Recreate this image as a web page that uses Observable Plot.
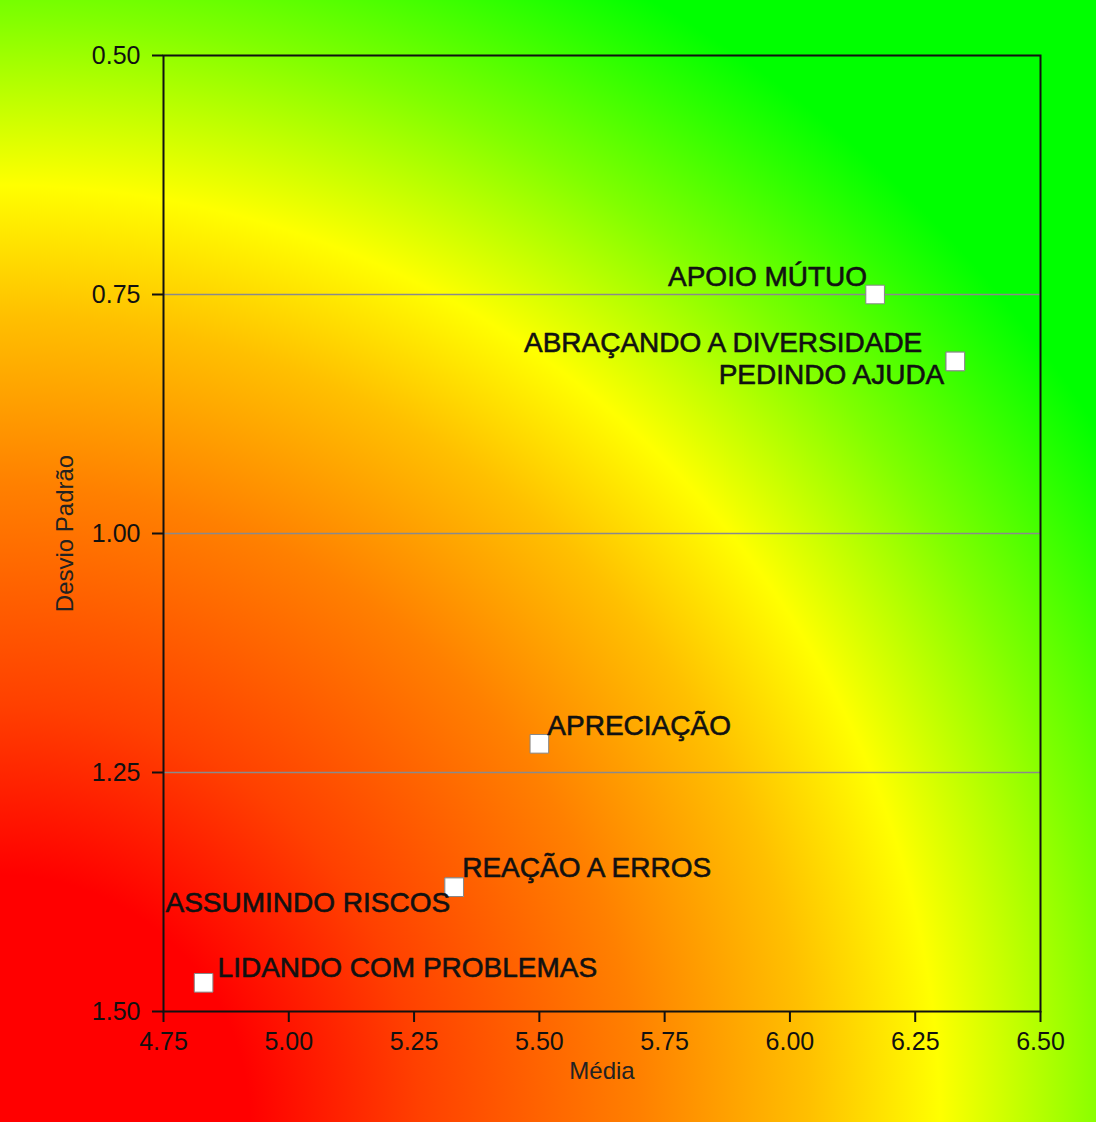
<!DOCTYPE html>
<html>
<head>
<meta charset="utf-8">
<script src="https://cdn.jsdelivr.net/npm/d3@7"></script>
<script src="https://cdn.jsdelivr.net/npm/@observablehq/plot@0.6"></script>
<style>
  html, body { margin: 0; padding: 0; background: #fff; }
  #wrap {
    position: relative; width: 1096px; height: 1122px; overflow: hidden;
    background: radial-gradient(circle at 0px 1125px,
      #ff0000 0px, #ff0000 250px, #ff4000 420px, #ff8000 640px, #ffc000 810px,
      #ffff00 940px, #80ff00 1110px, #00ff00 1300px, #00ff00 1700px);
  }
  #wrap svg { position: absolute; left: 0; top: 0; }
</style>
</head>
<body>
<div id="wrap"></div>
<script>
const categorias = ["APOIO MÚTUO", "ABRAÇANDO A DIVERSIDADE", "PEDINDO AJUDA", "APRECIAÇÃO", "REAÇÃO A ERROS", "ASSUMINDO RISCOS", "LIDANDO COM PROBLEMAS"];
const media = [6.17, 6.33, 6.33, 5.50, 5.33, 5.33, 4.83];
const desvio = [0.75, 0.82, 0.82, 1.22, 1.37, 1.37, 1.47];
const xTicks = [4.75, 5.00, 5.25, 5.50, 5.75, 6.00, 6.25, 6.50];
const yTicks = [0.50, 0.75, 1.00, 1.25, 1.50];
const gridY = [0.75, 1.00, 1.25];
const xLabel = "Média";
const yLabel = "Desvio Padrão";

const data = categorias.map((c, i) => ({nome: c, media: media[i], desvio: desvio[i]}));

// label placement (screen offsets, not data)
const place = {
  "APOIO MÚTUO": {anchor: "end", dx: -8, dy: -17},
  "ABRAÇANDO A DIVERSIDADE": {anchor: "end", dx: -33, dy: -18},
  "PEDINDO AJUDA": {anchor: "end", dx: -11, dy: 14},
  "APRECIAÇÃO": {anchor: "start", dx: 8, dy: -18},
  "REAÇÃO A ERROS": {anchor: "start", dx: 8, dy: -19},
  "ASSUMINDO RISCOS": {anchor: "end", dx: -4, dy: 16},
  "LIDANDO COM PROBLEMAS": {anchor: "start", dx: 14, dy: -15}
};

const FONT = "'Liberation Sans', Arial, Helvetica, sans-serif";

const labelMarks = data.map(d => Plot.text([d], {
  x: "media", y: "desvio", text: "nome",
  textAnchor: place[d.nome].anchor, dx: place[d.nome].dx, dy: place[d.nome].dy,
  fontSize: 28, fill: "#111", stroke: "#111", strokeWidth: 0.6, fontFamily: FONT
}));

const chart = Plot.plot({
  width: 1096, height: 1125,
  marginLeft: 163, marginRight: 56, marginTop: 55, marginBottom: 114,
  style: {background: "transparent", fontFamily: FONT, color: "#111", overflow: "visible"},
  x: {domain: [4.75, 6.5]},
  y: {domain: [0.5, 1.5], reverse: true},
  marks: [
    Plot.ruleY(gridY, {stroke: "#8a8a8a", strokeWidth: 1.5}),
    Plot.frame({stroke: "#111", strokeWidth: 2}),
    Plot.axisX({ticks: xTicks, tickFormat: d => d.toFixed(2), tickSize: 11, tickPadding: 10, fontSize: 25, label: null, stroke: "#111", strokeWidth: 2}),
    Plot.axisY({ticks: yTicks, tickFormat: d => d.toFixed(2), tickSize: 11, tickPadding: 12, fontSize: 25, label: null, stroke: "#111", strokeWidth: 2}),
    Plot.text([xLabel], {frameAnchor: "bottom", dy: 67, fontSize: 24, fill: "#222"}),
    Plot.text([yLabel], {frameAnchor: "left", dx: -98, rotate: -90, textAnchor: "middle", fontSize: 24, fill: "#222"}),
    Plot.dot(data, {x: "media", y: "desvio", symbol: "square", r: 10.5, fill: "white", stroke: "#888", strokeWidth: 1}),
    ...labelMarks
  ]
});
document.getElementById("wrap").appendChild(chart);
</script>
</body>
</html>
